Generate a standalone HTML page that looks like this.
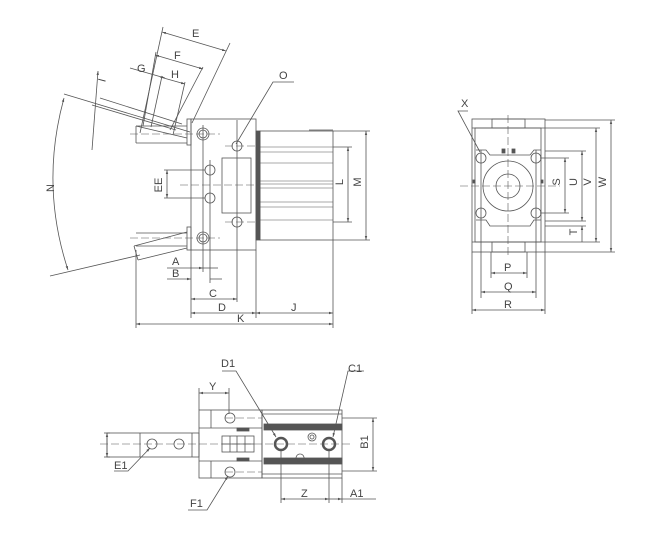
<!DOCTYPE html>
<html><head><meta charset="utf-8"><style>
html,body{margin:0;padding:0;background:#fff;}
svg{display:block;font-family:"Liberation Sans",sans-serif;}
text{font-size:11px;fill:#444;}
</style></head><body>
<svg width="650" height="533" viewBox="0 0 650 533" xmlns="http://www.w3.org/2000/svg">
<defs>
<marker id="a" viewBox="0 0 10 10" refX="10" refY="5" markerWidth="5" markerHeight="5" orient="auto-start-reverse"><path d="M0,2 L10,5 L0,8 z" fill="#555"/></marker>
</defs>
<g stroke="#555" stroke-width="0.8" fill="none">
<!-- ===== FRONT VIEW ===== -->
<rect x="191" y="119" width="65" height="131"/>
<rect x="256" y="131" width="4" height="109" fill="#555"/>
<rect x="260" y="131" width="73" height="109"/>
<line x1="309" y1="130" x2="333" y2="130"/>
<g stroke-width="0.6">
<line x1="260" y1="147" x2="333" y2="147"/><line x1="260" y1="152" x2="333" y2="152"/>
<line x1="260" y1="163" x2="333" y2="163"/><line x1="260" y1="181" x2="333" y2="181"/>
<line x1="260" y1="184" x2="333" y2="184"/><line x1="260" y1="188" x2="333" y2="188"/>
<line x1="260" y1="202" x2="333" y2="202"/><line x1="260" y1="207" x2="333" y2="207"/>
<line x1="260" y1="220" x2="333" y2="220"/>
</g>
<rect x="222" y="158" width="29" height="55"/>
<circle cx="237" cy="146" r="5"/><circle cx="237" cy="222" r="5"/>
<circle cx="210" cy="170" r="5"/><circle cx="210" cy="198" r="5"/>
<circle cx="203" cy="134" r="6"/><circle cx="203" cy="134" r="4"/>
<circle cx="203" cy="238" r="6"/><circle cx="203" cy="238" r="4"/>
<line x1="203" y1="125" x2="203" y2="272"/>
<line x1="210" y1="160" x2="210" y2="283"/>
<line x1="237" y1="120" x2="237" y2="302"/>
<g stroke-dasharray="8,3" stroke-width="0.6">
<line x1="130" y1="134" x2="220" y2="134"/><line x1="130" y1="238" x2="220" y2="238"/>
<line x1="225" y1="146" x2="258" y2="146"/><line x1="225" y1="222" x2="258" y2="222"/>
<line x1="180" y1="185" x2="258" y2="185"/>
</g>
<!-- jaws -->
<rect x="187" y="119" width="4" height="26"/>
<line x1="136" y1="126" x2="187" y2="126"/><line x1="136" y1="126" x2="136" y2="143"/><line x1="136" y1="143" x2="187" y2="143"/>
<line x1="136" y1="126" x2="187" y2="138"/>
<rect x="187" y="227" width="4" height="23"/>
<line x1="136" y1="233" x2="187" y2="233"/><line x1="136" y1="246" x2="187" y2="246"/>
<line x1="134" y1="246" x2="187" y2="232"/><line x1="134" y1="246" x2="138" y2="260"/><line x1="138" y1="260" x2="187" y2="248"/>
<!-- angled dims -->
<line x1="64" y1="94" x2="190" y2="132"/>
<line x1="100" y1="98" x2="182" y2="124"/><line x1="92" y1="105" x2="176" y2="130"/>
<line x1="98" y1="71" x2="92" y2="150" marker-start="url(#a)"/>
<line x1="140" y1="133" x2="163" y2="27"/><line x1="192" y1="123" x2="230" y2="43"/>
<line x1="162" y1="32" x2="226" y2="51" marker-start="url(#a)" marker-end="url(#a)"/>
<line x1="143" y1="126" x2="156" y2="52"/><line x1="170" y1="130" x2="203" y2="67"/>
<line x1="155" y1="55" x2="203" y2="69" marker-start="url(#a)" marker-end="url(#a)"/>
<line x1="151" y1="127" x2="162" y2="76"/><line x1="173" y1="135" x2="185" y2="82"/>
<line x1="130" y1="68" x2="165" y2="78" marker-end="url(#a)"/>
<line x1="160" y1="77" x2="185" y2="84" marker-end="url(#a)"/>
<path d="M64,98 Q40,185 68,270" marker-start="url(#a)" marker-end="url(#a)"/>
<line x1="50" y1="276" x2="140" y2="255"/>
<!-- O leader -->
<polyline points="236,144 273,82 294,82"/>
<!-- EE -->
<line x1="164" y1="170" x2="205" y2="170"/><line x1="164" y1="198" x2="205" y2="198"/>
<line x1="167" y1="170" x2="167" y2="198" marker-start="url(#a)" marker-end="url(#a)"/>
<!-- L M -->
<line x1="333" y1="147" x2="352" y2="147"/><line x1="333" y1="222" x2="352" y2="222"/>
<line x1="348" y1="147" x2="348" y2="222" marker-start="url(#a)" marker-end="url(#a)"/>
<line x1="333" y1="131" x2="370" y2="131"/><line x1="333" y1="240" x2="370" y2="240"/>
<line x1="366" y1="131" x2="366" y2="240" marker-start="url(#a)" marker-end="url(#a)"/>
<!-- bottom dims -->
<line x1="136" y1="250" x2="136" y2="328"/><line x1="333" y1="240" x2="333" y2="328"/>
<line x1="191" y1="250" x2="191" y2="318"/><line x1="256" y1="250" x2="256" y2="318"/>
<line x1="167" y1="268" x2="203" y2="268" marker-end="url(#a)"/><line x1="203" y1="268" x2="218" y2="268"/>
<line x1="167" y1="279" x2="191" y2="279" marker-end="url(#a)"/><line x1="210" y1="279" x2="222" y2="279" />
<line x1="191" y1="299" x2="237" y2="299" marker-start="url(#a)" marker-end="url(#a)"/>
<line x1="191" y1="313" x2="256" y2="313" marker-start="url(#a)" marker-end="url(#a)"/>
<line x1="256" y1="313" x2="333" y2="313" marker-start="url(#a)" marker-end="url(#a)"/>
<line x1="136" y1="324" x2="333" y2="324" marker-start="url(#a)" marker-end="url(#a)"/>

<!-- ===== SIDE VIEW ===== -->
<rect x="472" y="119" width="73" height="133"/>
<path d="M475,128 H541 V242 H475 Z"/>
<line x1="472" y1="128" x2="545" y2="128"/><line x1="472" y1="242" x2="545" y2="242"/>
<rect x="492" y="119" width="33" height="9"/><rect x="492" y="242" width="33" height="10"/>
<rect x="502" y="149" width="3" height="4" fill="#555"/><rect x="512" y="149" width="3" height="4" fill="#555"/>
<rect x="473" y="180" width="2" height="3" fill="#555"/><rect x="541" y="180" width="2" height="3" fill="#555"/>
<path d="M476,150 L486,150 L490,155 L530,155 L534,150 L541,150 M476,220 L486,220 L490,226 L530,226 L534,220 L541,220"/>
<circle cx="508" cy="186" r="25"/><circle cx="508" cy="186" r="12"/>
<circle cx="481" cy="158" r="5"/><circle cx="536" cy="158" r="5"/>
<circle cx="481" cy="213" r="5"/><circle cx="536" cy="213" r="5"/>
<g stroke-dasharray="8,3" stroke-width="0.6">
<line x1="460" y1="186" x2="560" y2="186"/><line x1="508" y1="115" x2="508" y2="258"/>
</g>
<line x1="481" y1="150" x2="481" y2="298"/><line x1="536" y1="150" x2="536" y2="298"/>
<line x1="491" y1="252" x2="491" y2="278"/><line x1="527" y1="252" x2="527" y2="278"/>
<line x1="472" y1="252" x2="472" y2="314"/><line x1="545" y1="252" x2="545" y2="314"/>
<line x1="491" y1="273" x2="527" y2="273" marker-start="url(#a)" marker-end="url(#a)"/>
<line x1="481" y1="292" x2="536" y2="292" marker-start="url(#a)" marker-end="url(#a)"/>
<line x1="472" y1="310" x2="545" y2="310" marker-start="url(#a)" marker-end="url(#a)"/>
<line x1="540" y1="158" x2="569" y2="158"/><line x1="540" y1="213" x2="569" y2="213"/>
<line x1="565" y1="158" x2="565" y2="213" marker-start="url(#a)" marker-end="url(#a)"/>
<line x1="545" y1="151" x2="586" y2="151"/><line x1="545" y1="221" x2="586" y2="221"/>
<line x1="582" y1="151" x2="582" y2="221" marker-start="url(#a)" marker-end="url(#a)"/>
<line x1="545" y1="226" x2="586" y2="226"/>
<line x1="582" y1="226" x2="582" y2="242" marker-start="url(#a)"/>
<line x1="545" y1="128" x2="600" y2="128"/><line x1="545" y1="242" x2="600" y2="242"/>
<line x1="596" y1="128" x2="596" y2="242" marker-start="url(#a)" marker-end="url(#a)"/>
<line x1="545" y1="120" x2="615" y2="120"/><line x1="545" y1="252" x2="615" y2="252"/>
<line x1="611" y1="120" x2="611" y2="252" marker-start="url(#a)" marker-end="url(#a)"/>
<polyline points="480,152 458,111 468,111"/>

<!-- ===== TOP VIEW ===== -->
<rect x="262" y="410" width="80" height="68"/>
<line x1="262" y1="414" x2="342" y2="414"/><line x1="262" y1="474" x2="342" y2="474"/>
<rect x="264" y="424" width="78" height="6" fill="#555"/>
<rect x="264" y="458" width="78" height="6" fill="#555"/>
<rect x="199" y="410" width="63" height="68"/>
<line x1="199" y1="428" x2="262" y2="428"/><line x1="199" y1="461" x2="262" y2="461"/>
<line x1="211" y1="410" x2="211" y2="428"/><line x1="211" y1="461" x2="211" y2="478"/>
<rect x="107" y="433" width="92" height="24"/>
<line x1="140" y1="433" x2="140" y2="457"/><line x1="192" y1="433" x2="192" y2="457"/>
<rect x="222" y="436" width="32" height="16"/>
<line x1="230" y1="436" x2="230" y2="452"/><line x1="237" y1="436" x2="237" y2="452"/><line x1="245" y1="436" x2="245" y2="452"/>
<line x1="222" y1="444" x2="254" y2="444"/>
<rect x="237" y="428" width="12" height="3" fill="#555"/><rect x="237" y="458" width="12" height="3" fill="#555"/>
<circle cx="152" cy="444" r="5"/><circle cx="179" cy="444" r="5"/>
<circle cx="230" cy="418" r="5"/><circle cx="230" cy="472" r="5"/>
<circle cx="281" cy="444" r="6" stroke-width="2.5"/><circle cx="329" cy="444" r="6" stroke-width="2.5"/>
<circle cx="312" cy="437" r="4"/><circle cx="312" cy="437" r="2"/>
<g stroke-dasharray="8,3" stroke-width="0.6">
<line x1="100" y1="444" x2="350" y2="444"/>
<line x1="225" y1="418" x2="262" y2="418"/><line x1="225" y1="472" x2="262" y2="472"/>
</g>
<line x1="104" y1="433" x2="110" y2="433"/><line x1="104" y1="457" x2="110" y2="457"/>
<line x1="107" y1="433" x2="107" y2="457" marker-start="url(#a)" marker-end="url(#a)"/>
<line x1="199" y1="388" x2="199" y2="410"/><line x1="229" y1="388" x2="229" y2="414"/>
<line x1="199" y1="393" x2="229" y2="393" marker-start="url(#a)" marker-end="url(#a)"/>
<line x1="281" y1="450" x2="281" y2="503"/><line x1="329" y1="450" x2="329" y2="503"/><line x1="342" y1="478" x2="342" y2="503"/>
<line x1="281" y1="499" x2="329" y2="499" marker-start="url(#a)" marker-end="url(#a)"/>
<line x1="329" y1="499" x2="342" y2="499" marker-end="url(#a)"/><line x1="342" y1="499" x2="376" y2="499"/>
<line x1="342" y1="418" x2="377" y2="418"/><line x1="342" y1="471" x2="377" y2="471"/>
<line x1="373" y1="418" x2="373" y2="471" marker-start="url(#a)" marker-end="url(#a)"/>
<polyline points="222,371 236,371 276,437" marker-end="url(#a)"/>
<polyline points="364,371 348,371 333,437" marker-end="url(#a)"/>
<polyline points="114,471 128,471 150,448" marker-end="url(#a)"/>
<polyline points="188,510 207,510 228,476" marker-end="url(#a)"/>
<path d="M300,454 a4,4 0 1,0 0.1,0"/>
</g>
<g>
<text x="192" y="37">E</text><text x="174" y="59">F</text><text x="137" y="72">G</text><text x="171" y="78">H</text>
<text x="100" y="82" transform="rotate(-75 103 79)">I</text>
<text x="50" y="192" transform="rotate(-90 50 188)" text-anchor="middle">N</text>
<text x="162" y="185" transform="rotate(-90 162 185)" text-anchor="middle">EE</text>
<text x="346" y="185" transform="rotate(-90 343 185)" text-anchor="middle">L</text>
<text x="364" y="185" transform="rotate(-90 361 185)" text-anchor="middle">M</text>
<text x="279" y="79">O</text>
<text x="172" y="265">A</text><text x="172" y="277">B</text><text x="209" y="297">C</text>
<text x="218" y="311">D</text><text x="291" y="311">J</text><text x="237" y="322">K</text>
<text x="461" y="107">X</text>
<text x="504" y="271">P</text><text x="504" y="290">Q</text><text x="504" y="308">R</text>
<text x="563" y="185" transform="rotate(-90 560 185)" text-anchor="middle">S</text>
<text x="580" y="185" transform="rotate(-90 577 185)" text-anchor="middle">U</text>
<text x="594" y="185" transform="rotate(-90 591 185)" text-anchor="middle">V</text>
<text x="609" y="185" transform="rotate(-90 606 185)" text-anchor="middle">W</text>
<text x="580" y="235" transform="rotate(-90 577 235)" text-anchor="middle">T</text>
<text x="221" y="367">D1</text><text x="348" y="372">C1</text><text x="114" y="469">E1</text><text x="190" y="507">F1</text>
<text x="209" y="390">Y</text><text x="301" y="497">Z</text><text x="350" y="497">A1</text>
<text x="371" y="445" transform="rotate(-90 368 445)" text-anchor="middle">B1</text>
</g>
</svg>
</body></html>
